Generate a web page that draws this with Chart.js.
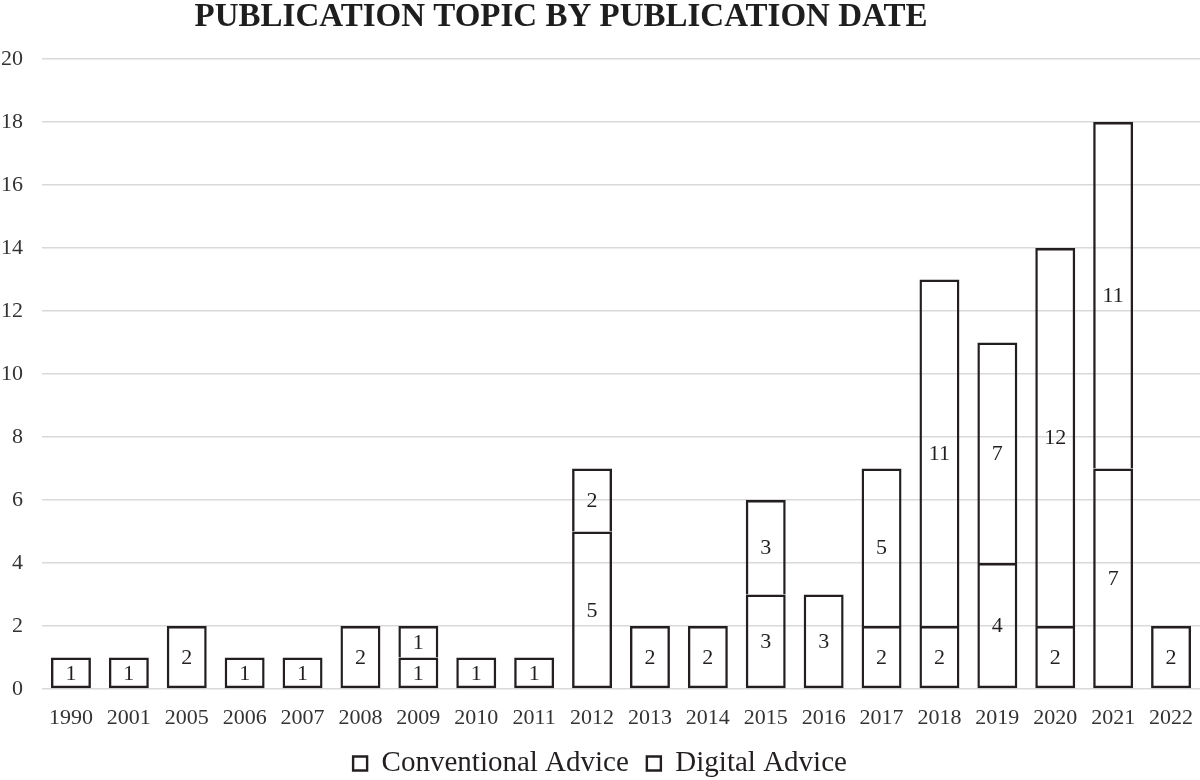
<!DOCTYPE html>
<html>
<head>
<meta charset="utf-8">
<title>Publication topic by publication date</title>
<script src="https://cdn.jsdelivr.net/npm/chart.js@4/dist/chart.umd.min.js"></script>
<style>
  html, body { margin: 0; padding: 0; background: #fff; }
  #wrap { width: 1200px; height: 780px; }
</style>
</head>
<body>
<div id="wrap"><canvas id="chart"></canvas></div>
<script>
// data
const years = ["1990", "2001", "2005", "2006", "2007", "2008", "2009", "2010", "2011", "2012",
  "2013", "2014", "2015", "2016", "2017", "2018", "2019", "2020", "2021", "2022"];
const conventional = [1, 1, 2, 1, 1, 2, 1, 1, 1, 5, 2, 2, 3, 3, 2, 2, 4, 2, 7, 2];
const digital = [0, 0, 0, 0, 0, 0, 1, 0, 0, 2, 0, 0, 3, 0, 5, 11, 7, 12, 11, 0];
const seriesNames = ["Conventional Advice", "Digital Advice"];
const yTicksMax = 20;
const yTickStep = 2;
const chartTitle = "PUBLICATION TOPIC BY PUBLICATION DATE";

const serif = "'Liberation Serif', 'Times New Roman', serif";
const ink = "#231f20";

// draws the value in the middle of each segment (no datalabels plugin offline)
const segmentLabels = {
  id: "segmentLabels",
  afterDatasetsDraw(chart) {
    const ctx = chart.ctx;
    ctx.save();
    ctx.font = "22px " + serif;
    ctx.fillStyle = ink;
    ctx.textAlign = "center";
    ctx.textBaseline = "middle";
    chart.data.datasets.forEach((ds, i) => {
      const meta = chart.getDatasetMeta(i);
      meta.data.forEach((bar, j) => {
        const v = ds.data[j];
        if (!v) return;
        ctx.fillText(String(v), bar.x, (bar.y + bar.base) / 2 + 1);
      });
    });
    ctx.restore();
  }
};

// title sits a bit left of centre in the original
const offsetTitle = {
  id: "offsetTitle",
  afterDraw(chart) {
    const ctx = chart.ctx;
    ctx.save();
    ctx.font = "bold 33px " + serif;
    ctx.fillStyle = "#1e1e1e";
    ctx.textAlign = "center";
    ctx.textBaseline = "middle";
    ctx.fillText(chartTitle, chart.width * 0.4675, 17);
    ctx.restore();
  }
};

new Chart(document.getElementById("chart"), {
  type: "bar",
  data: {
    labels: years,
    datasets: [
      {
        label: seriesNames[0],
        data: conventional,
        backgroundColor: "rgba(255,255,255,0)",
        borderColor: ink,
        borderWidth: 2.4,
        borderSkipped: false,
      },
      {
        label: seriesNames[1],
        data: digital,
        backgroundColor: "rgba(255,255,255,0)",
        borderColor: ink,
        borderWidth: 2.4,
        borderSkipped: "bottom",
      },
    ],
  },
  options: {
    responsive: true,
    maintainAspectRatio: false,
    animation: false,
    layout: { padding: { top: 59, right: 0, bottom: -8, left: 0 } },
    datasets: {
      bar: { categoryPercentage: 1, barPercentage: 0.69 },
    },
    scales: {
      x: {
        stacked: true,
        grid: { display: false },
        border: { display: false },
        ticks: { color: "#333", font: { family: serif, size: 22 }, padding: 8, maxRotation: 0 },
        afterFit: (scale) => {
          // labels are clipped to the scale box, so keep it tall enough
          scale.height = 42;
          scale.paddingLeft = 0;
          scale.paddingRight = 0;
        },
      },
      y: {
        stacked: true,
        min: 0,
        max: yTicksMax,
        grid: { color: "#d9d9d9", lineWidth: 1.5, drawTicks: false },
        border: { display: false },
        ticks: { stepSize: yTickStep, color: "#333", font: { family: serif, size: 22 }, padding: 19 },
        afterFit: (scale) => { scale.width = 42; },
      },
    },
    plugins: {
      title: { display: false },
      tooltip: { enabled: false },
      legend: {
        position: "bottom",
        labels: {
          color: ink,
          font: { family: serif, size: 29 },
          boxWidth: 14,
          boxHeight: 14,
          padding: 18,
        },
      },
    },
  },
  plugins: [segmentLabels, offsetTitle],
});
</script>
</body>
</html>
